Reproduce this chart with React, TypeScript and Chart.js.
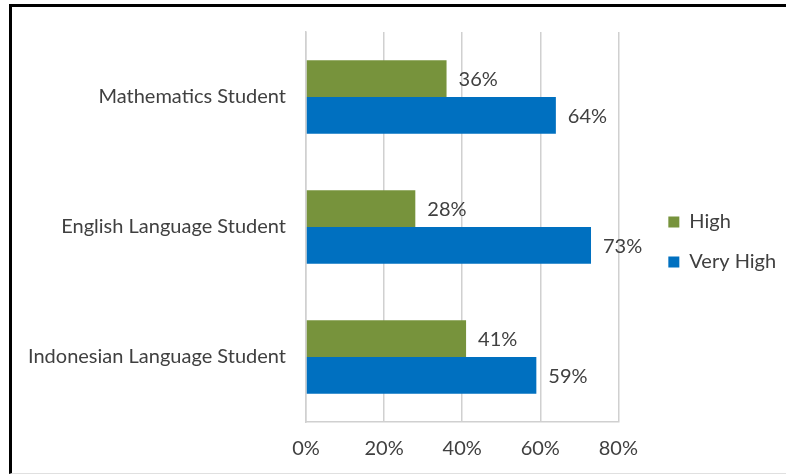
import React, { useEffect, useRef } from "react";
import { Chart, registerables } from "chart.js";

Chart.register(...registerables);

const categories = ["Mathematics Student", "English Language Student", "Indonesian Language Student"];
const highValues = [36, 28, 41];
const veryHighValues = [64, 73, 59];
const seriesNames = ["High", "Very High"];
const tickMax = 80;
const tickStep = 20;

const FONT = "Lato";
const FSIZE = 20;
const TEXT = "#404040";
const GRID = "#d0d0d0";

const valueLabels = {
  id: "valueLabels",
  afterDatasetsDraw(chart: any) {
    const ctx = chart.ctx;
    ctx.save();
    ctx.font = `${FSIZE}px ${FONT}`;
    ctx.fillStyle = TEXT;
    ctx.textAlign = "left";
    ctx.textBaseline = "middle";
    chart.data.datasets.forEach((ds: any, di: number) => {
      const meta = chart.getDatasetMeta(di);
      meta.data.forEach((el: any, i: number) => {
        ctx.fillText(`${ds.data[i]}%`, el.x + 12, el.y + 1);
      });
    });
    ctx.restore();
  },
};

export default function App() {
  const ref = useRef<HTMLCanvasElement>(null);
  useEffect(() => {
    if (!ref.current) return;
    const chart = new Chart(ref.current, {
      type: "bar",
      data: {
        labels: categories,
        datasets: [
          { label: seriesNames[0], data: highValues, backgroundColor: "#77933C", barPercentage: 1, categoryPercentage: 0.566 },
          { label: seriesNames[1], data: veryHighValues, backgroundColor: "#0070C0", barPercentage: 1, categoryPercentage: 0.566 },
        ],
      },
      options: {
        indexAxis: "y",
        responsive: false,
        animation: false,
        devicePixelRatio: 1,
        layout: { padding: { top: 29, bottom: 20, left: 0, right: 8 } },
        plugins: {
          tooltip: { enabled: false },
          legend: {
            position: "right",
            labels: {
              boxWidth: 11,
              boxHeight: 11,
              padding: 20,
              color: TEXT,
              font: { family: FONT, size: FSIZE },
            },
          },
        },
        scales: {
          x: {
            min: 0,
            max: tickMax,
            ticks: {
              stepSize: tickStep,
              color: TEXT,
              font: { family: FONT, size: FSIZE },
              padding: 15,
              callback: (v: any) => `${v}%`,
            },
            grid: { color: GRID, lineWidth: 1.5, drawTicks: false },
            border: { display: true, color: GRID, width: 1.5 },
            afterFit: (s: any) => { s.height = 33; },
          },
          y: {
            ticks: { color: TEXT, font: { family: FONT, size: FSIZE }, padding: 20 },
            grid: { display: false, drawTicks: false },
            border: { display: true, color: GRID, width: 1.5 },
            afterFit: (s: any) => { s.width = 306; },
          },
          yPad: {
            type: "category",
            position: "right",
            display: true,
            grid: { display: false, drawTicks: false },
            border: { display: false },
            ticks: { display: false },
            afterFit: (s: any) => { s.width = 30; },
          },
        },
      } as any,
      plugins: [valueLabels],
    });
    return () => chart.destroy();
  }, []);

  return (
    <div style={{ position: "absolute", left: 0, top: 0, width: 786, height: 475, overflow: "hidden", background: "#fff" }}>
      <div
        style={{
          position: "absolute",
          left: 9,
          top: 4,
          width: 800,
          height: 470,
          boxSizing: "border-box",
          borderLeft: "3.5px solid #000",
          borderTop: "3.5px solid #000",
          borderBottom: "1px solid #e0e0e0",
        }}
      />
      <canvas ref={ref} width={786} height={475} style={{ position: "absolute", left: 0, top: 0 }} />
    </div>
  );
}
